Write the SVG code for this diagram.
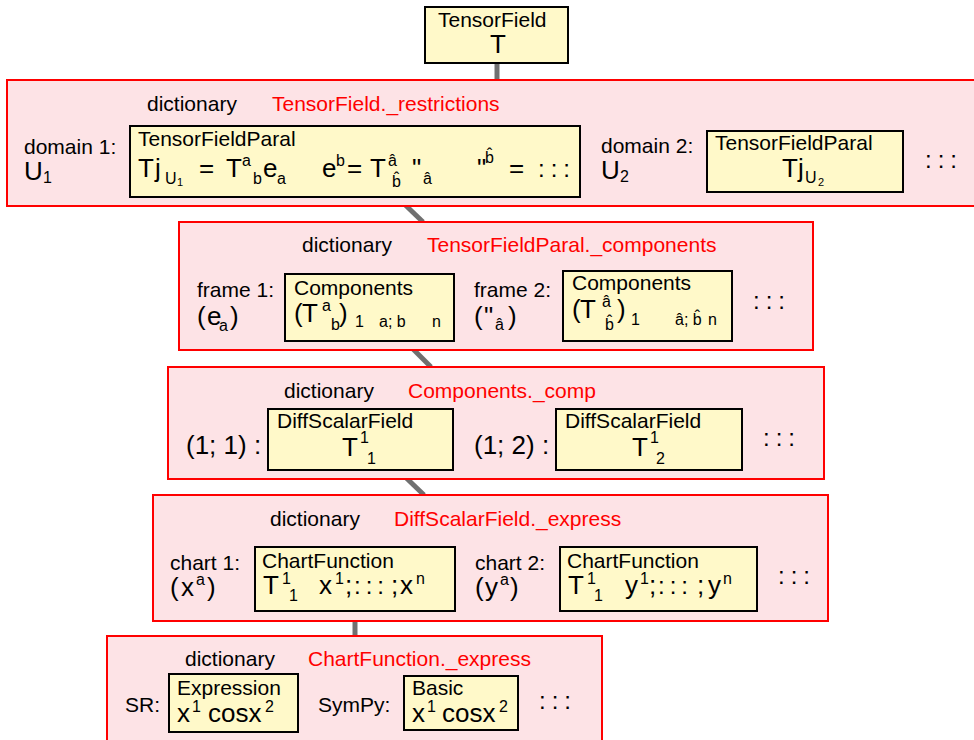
<svg xmlns="http://www.w3.org/2000/svg" width="974" height="740" viewBox="0 0 974 740">
<style>
.dict{fill:#fde3e6;stroke:#ff0000;stroke-width:2}
.node{fill:#fff9c9;stroke:#000;stroke-width:2}
text{font-family:"Liberation Sans",Arial,sans-serif;font-size:21px;fill:#000}
.red{fill:#ff0000}
.b{font-size:26px}
.s{font-size:16px}
.xs{font-size:11px}
.dots{font-size:24px;letter-spacing:6px}
.conn{stroke:#707070;stroke-width:5;fill:none}
</style>
<rect width="974" height="740" fill="#ffffff"/>
<g id="connectors">
<line class="conn" x1="497" y1="63" x2="497" y2="81"/>
<line class="conn" x1="397" y1="197" x2="423" y2="222"/>
<line class="conn" x1="405" y1="341" x2="431" y2="367"/>
<line class="conn" x1="398" y1="470" x2="424" y2="495"/>
<line class="conn" x1="355" y1="611" x2="355" y2="637"/>
</g>
<g id="tensorfield">
<rect class="node" x="425" y="7" width="143" height="56"/>
<text x="438" y="27">TensorField</text>
<text class="b" x="490" y="53">T</text>
</g>
<g id="restrictions">
<rect class="dict" x="7" y="80" width="980" height="126"/>
<text x="147" y="111">dictionary</text>
<text class="red" x="272" y="111">TensorField._restrictions</text>
<text x="24" y="154">domain 1:</text>
<text class="b" x="24" y="180">U</text><text class="s" x="43" y="183">1</text>
<g id="tfp1">
<rect class="node" x="130" y="126" width="450" height="71"/>
<text x="138" y="146">TensorFieldParal</text>
<text class="b" x="138" y="177">T</text>
<text class="b" x="155" y="177">j</text>
<text class="s" x="165" y="184">U</text><text class="xs" x="177" y="186">1</text>
<text class="b" x="199" y="177">=</text>
<text class="b" x="226" y="177">T</text>
<text class="s" x="242" y="166">a</text>
<text class="s" x="253" y="184">b</text>
<text class="b" x="263" y="177">e</text>
<text class="s" x="277" y="184">a</text>
<text class="b" x="322" y="177">e</text>
<text class="s" x="336" y="166">b</text>
<text class="b" x="347" y="177">=</text>
<text class="b" x="370" y="177">T</text>
<text class="s" x="388" y="166">â</text>
<text class="s" x="392" y="187">b̂</text>
<text class="b" x="412" y="177">"</text>
<text class="s" x="423" y="184">â</text>
<text class="b" x="477" y="177">"</text>
<text class="s" x="485" y="163">b̂</text>
<text class="b" x="509" y="177">=</text>
<text class="dots" x="538" y="177">:::</text>
</g>
<text x="601" y="153">domain 2:</text>
<text class="b" x="601" y="179">U</text><text class="s" x="620" y="182">2</text>
<g id="tfp2">
<rect class="node" x="707" y="131" width="196" height="61"/>
<text x="715" y="150">TensorFieldParal</text>
<text class="b" x="782" y="177">T</text>
<text class="b" x="798" y="177">j</text>
<text class="s" x="805" y="183">U</text><text class="xs" x="818" y="186">2</text>
</g>
<text class="dots" x="925" y="168">:::</text>
</g>
<g id="components">
<rect class="dict" x="179" y="222" width="634" height="128"/>
<text x="302" y="252">dictionary</text>
<text class="red" x="427" y="252">TensorFieldParal._components</text>
<text x="197" y="297">frame 1:</text>
<text class="b" x="197" y="325">(</text><text class="b" x="207" y="325">e</text><text class="s" x="219" y="331">a</text><text class="b" x="230" y="325">)</text>
<g id="comp1">
<rect class="node" x="285" y="274" width="169" height="67"/>
<text x="294" y="295">Components</text>
<text class="b" x="294" y="322">(</text>
<text class="b" x="302" y="322">T</text>
<text class="s" x="322" y="311">a</text>
<text class="s" x="331" y="330">b</text>
<text class="b" x="339" y="322">)</text>
<text class="s" x="355" y="327">1</text>
<text class="s" x="379" y="327">a; b</text>
<text class="s" x="432" y="327">n</text>
</g>
<text x="474" y="297">frame 2:</text>
<text class="b" x="474" y="325">(</text><text class="b" x="484" y="325">"</text><text class="s" x="495" y="330">â</text><text class="b" x="508" y="325">)</text>
<g id="comp2">
<rect class="node" x="563" y="271" width="169" height="70"/>
<text x="572" y="290">Components</text>
<text class="b" x="572" y="318">(</text>
<text class="b" x="580" y="318">T</text>
<text class="s" x="602" y="307">â</text>
<text class="s" x="605" y="330">b̂</text>
<text class="b" x="617" y="318">)</text>
<text class="s" x="631" y="325">1</text>
<text class="s" x="675" y="325">â; b̂</text>
<text class="s" x="708" y="325">n</text>
</g>
<text class="dots" x="753" y="309">:::</text>
</g>
<g id="comp">
<rect class="dict" x="168" y="367" width="656" height="112"/>
<text x="284" y="398">dictionary</text>
<text class="red" x="408" y="398">Components._comp</text>
<text class="b" x="186" y="454">(1; 1) :</text>
<g id="dsf1">
<rect class="node" x="268" y="409" width="185" height="61"/>
<text x="277" y="428">DiffScalarField</text>
<text class="b" x="342" y="456">T</text>
<text class="s" x="360" y="443">1</text>
<text class="s" x="367" y="464">1</text>
</g>
<text class="b" x="474" y="454">(1; 2) :</text>
<g id="dsf2">
<rect class="node" x="556" y="409" width="186" height="61"/>
<text x="565" y="428">DiffScalarField</text>
<text class="b" x="632" y="456">T</text>
<text class="s" x="650" y="443">1</text>
<text class="s" x="656" y="464">2</text>
</g>
<text class="dots" x="763" y="446">:::</text>
</g>
<g id="express">
<rect class="dict" x="153" y="495" width="675" height="126"/>
<text x="270" y="526">dictionary</text>
<text class="red" x="394" y="526">DiffScalarField._express</text>
<text x="170" y="570">chart 1:</text>
<text class="b" x="170" y="596">(</text><text class="b" x="181" y="596">x</text><text class="s" x="196" y="585">a</text><text class="b" x="207" y="596">)</text>
<g id="cf1">
<rect class="node" x="255" y="547" width="200" height="64"/>
<text x="262" y="568">ChartFunction</text>
<text class="b" x="263" y="594">T</text>
<text class="s" x="282" y="584">1</text>
<text class="s" x="289" y="601">1</text>
<text class="b" x="319" y="594">x</text>
<text class="s" x="335" y="584">1</text>
<text class="b" x="345" y="594">;</text>
<text class="dots" x="354" y="594" style="letter-spacing:5px">:::</text>
<text class="b" x="391" y="594">;</text>
<text class="b" x="400" y="594">x</text>
<text class="s" x="416" y="584">n</text>
</g>
<text x="475" y="570">chart 2:</text>
<text class="b" x="475" y="596">(</text><text class="b" x="485" y="596">y</text><text class="s" x="500" y="585">a</text><text class="b" x="510" y="596">)</text>
<g id="cf2">
<rect class="node" x="560" y="547" width="197" height="64"/>
<text x="567" y="568">ChartFunction</text>
<text class="b" x="568" y="594">T</text>
<text class="s" x="587" y="584">1</text>
<text class="s" x="594" y="601">1</text>
<text class="b" x="625" y="594">y</text>
<text class="s" x="640" y="584">1</text>
<text class="b" x="649" y="594">;</text>
<text class="dots" x="658" y="594" style="letter-spacing:5px">:::</text>
<text class="b" x="697" y="594">;</text>
<text class="b" x="708" y="594">y</text>
<text class="s" x="723" y="584">n</text>
</g>
<text class="dots" x="778" y="584">:::</text>
</g>
<g id="cfexpress">
<rect class="dict" x="107" y="636" width="495" height="120"/>
<text x="185" y="666">dictionary</text>
<text class="red" x="308" y="666">ChartFunction._express</text>
<text x="125" y="712">SR:</text>
<g id="expr">
<rect class="node" x="169" y="674" width="129" height="58"/>
<text x="177" y="695">Expression</text>
<text class="b" x="177" y="722">x</text>
<text class="s" x="192" y="712">1</text>
<text class="b" x="208" y="722">cosx</text>
<text class="s" x="265" y="712">2</text>
</g>
<text x="318" y="712">SymPy:</text>
<g id="basic">
<rect class="node" x="404" y="676" width="114" height="54"/>
<text x="412" y="695">Basic</text>
<text class="b" x="412" y="722">x</text>
<text class="s" x="427" y="712">1</text>
<text class="b" x="442" y="722">cosx</text>
<text class="s" x="499" y="712">2</text>
</g>
<text class="dots" x="539" y="709">:::</text>
</g>
</svg>
